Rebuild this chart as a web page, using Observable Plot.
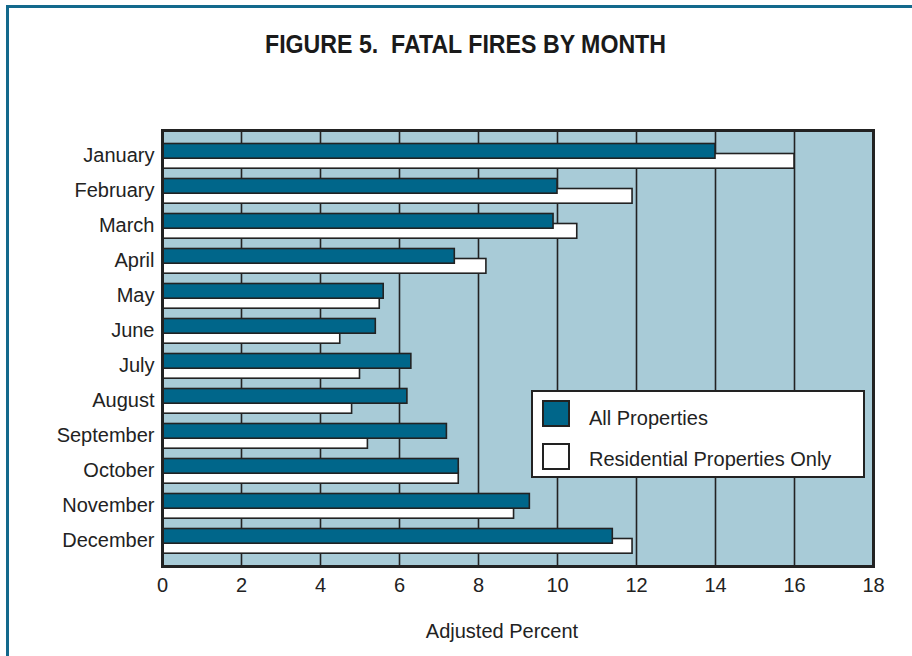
<!DOCTYPE html>
<html>
<head>
<meta charset="utf-8">
<script src="https://cdn.jsdelivr.net/npm/d3@7"></script>
<script src="https://cdn.jsdelivr.net/npm/@observablehq/plot@0.6"></script>
<style>
  html, body { margin: 0; padding: 0; background: #fff; }
  #page { position: relative; width: 912px; height: 656px; overflow: hidden; font-family: "Liberation Sans", Arial, sans-serif; color: #222; }
  #border { position: absolute; left: 6px; top: 5px; width: 2000px; height: 2000px; border-left: 3px solid #13698c; border-top: 3px solid #13698c; box-sizing: border-box; }
  #title { position: relative; height: 100px; }
  #title svg { position: absolute; left: 0; top: 0; }
  #legend { position: absolute; left: 531px; top: 390px; width: 334px; height: 88px; box-sizing: border-box; background: #fff; border: 2px solid #222; }
  .item { position: absolute; left: 9px; display: flex; align-items: center; font-size: 20px; color: #222; }
  .item span { position: relative; top: 3px; }
  .sw { width: 28px; height: 27px; box-sizing: border-box; border: 2.5px solid #222; margin-right: 19px; }
</style>
</head>
<body>
<div id="page">
  <div id="border"></div>
  <div id="title">
    <svg width="912" height="100">
      <text x="265" y="53" textLength="401" lengthAdjust="spacingAndGlyphs" font-family="'Liberation Sans Narrow', 'Liberation Sans', Arial, sans-serif" font-size="25" font-weight="bold" fill="#1a1a1a" xml:space="preserve">FIGURE 5.  FATAL FIRES BY MONTH</text>
    </svg>
  </div>
  <div id="chart"></div>
  <div id="legend"></div>
</div>
<script>
const months = ["January","February","March","April","May","June","July","August","September","October","November","December"];
const allProperties = [14.0, 10.0, 9.9, 7.4, 5.6, 5.4, 6.3, 6.2, 7.2, 7.5, 9.3, 11.4];
const residentialOnly = [16.0, 11.9, 10.5, 8.2, 5.5, 4.5, 5.0, 4.8, 5.2, 7.5, 8.9, 11.9];
const xTicks = [0, 2, 4, 6, 8, 10, 12, 14, 16, 18];
const gridTicks = [2, 4, 6, 8, 10, 12, 14, 16];
const seriesNames = ["All Properties", "Residential Properties Only"];
const seriesColors = ["#00668a", "#ffffff"];

const rowsAll = months.map((m, i) => ({month: m, value: allProperties[i]}));
const rowsRes = months.map((m, i) => ({month: m, value: residentialOnly[i]}));

const chart = Plot.plot({
  width: 912,
  height: 556,
  marginLeft: 162,
  marginRight: 39,
  marginTop: 30,
  marginBottom: 90,
  style: {fontFamily: "'Liberation Sans', Arial, sans-serif", fontSize: "20px", color: "#222", background: "transparent"},
  x: {domain: [0, 18], ticks: xTicks},
  y: {domain: months, paddingInner: 0, paddingOuter: 0.15},
  marks: [
    Plot.frame({fill: "#a8cbd7", stroke: null}),
    Plot.ruleX(gridTicks, {stroke: "#222", strokeWidth: 1.6}),
    Plot.barX(rowsRes, {y: "month", x: "value", fill: seriesColors[1], stroke: "#222", strokeWidth: 1.6, insetTop: 15.5, insetBottom: 4.8}),
    Plot.barX(rowsAll, {y: "month", x: "value", fill: seriesColors[0], stroke: "#222", strokeWidth: 1.6, insetTop: 5.5, insetBottom: 14.8}),
    Plot.frame({stroke: "#222", strokeWidth: 3}),
    Plot.axisY({tickSize: 0, tickPadding: 8, label: null, fontSize: 20}),
    Plot.axisX({ticks: xTicks, tickSize: 0, tickPadding: 11, label: null, fontSize: 20}),
    Plot.text(["Adjusted Percent"], {frameAnchor: "bottom", dy: 71, dx: -16, fontSize: 20, fill: "#222"})
  ]
});
document.getElementById("chart").appendChild(chart);

const legend = document.getElementById("legend");
seriesNames.forEach((name, i) => {
  const item = document.createElement("div");
  item.className = "item";
  item.style.top = (i === 0 ? 8 : 51) + "px";
  const sw = document.createElement("div");
  sw.className = "sw";
  sw.style.background = seriesColors[i];
  item.appendChild(sw);
  const t = document.createElement("span");
  t.textContent = name;
  if (i === 0) t.style.top = "5px";
  item.appendChild(t);
  legend.appendChild(item);
});
</script>
</body>
</html>
